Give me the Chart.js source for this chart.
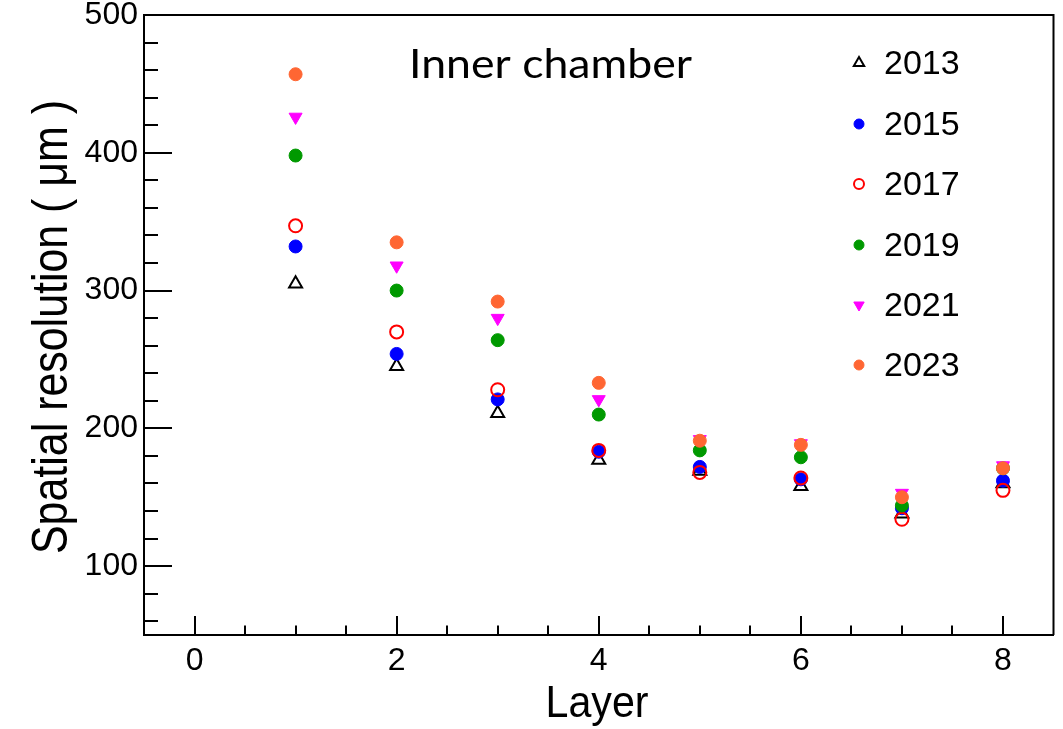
<!DOCTYPE html>
<html>
<head>
<meta charset="utf-8">
<script src="https://cdn.jsdelivr.net/npm/chart.js@4.4.1/dist/chart.umd.min.js"></script>
<style>
  body { margin: 0; background: #fff; }
  #wrap { width: 1063px; height: 729px; }
</style>
</head>
<body>
<div id="wrap"><canvas id="myChart" width="1063" height="729"></canvas></div>
<script>
// data
const layers = [1, 2, 3, 4, 5, 6, 7, 8];
const res2013 = [305, 245, 211, 177, 169, 158, 138, 160];
const res2015 = [332, 254, 221, 183, 172, 163, 142, 162];
const res2017 = [347, 270, 228, 184, 168, 164, 134, 155];
const res2019 = [398, 300, 264, 210, 184, 179, 144, 171];
const res2021 = [426, 318, 280, 221, 192, 189, 153, 173];
const res2023 = [457, 335, 292, 233, 191, 188, 150, 171];
const years = ["2013", "2015", "2017", "2019", "2021", "2023"];
const xTicks = [0, 2, 4, 6, 8];
const yTicks = [100, 200, 300, 400, 500];

const allRes = [res2013, res2015, res2017, res2019, res2021, res2023];
// marker looks, like the ROOT ones
const markers = [
  { style: "triangle", rot: 0, fill: "rgba(0,0,0,0)", line: "#000000", w: 2, r: 7.5 },
  { style: "circle", rot: 0, fill: "#0000ff", line: "#0000ff", w: 1, r: 6.5 },
  { style: "circle", rot: 0, fill: "rgba(0,0,0,0)", line: "#ff0000", w: 2, r: 6.5 },
  { style: "circle", rot: 0, fill: "#009900", line: "#009900", w: 1, r: 6.5 },
  { style: "triangle", rot: 180, fill: "#ff00ff", line: "#ff00ff", w: 1, r: 7.5 },
  { style: "circle", rot: 0, fill: "#ff6633", line: "#ff6633", w: 1, r: 6.5 }
];

const datasets = years.map((y, i) => ({
  label: y,
  data: layers.map((l, j) => ({ x: l, y: allRes[i][j] })),
  showLine: false,
  pointStyle: markers[i].style,
  pointRotation: markers[i].rot,
  pointRadius: markers[i].r,
  pointHoverRadius: markers[i].r,
  backgroundColor: markers[i].fill,
  borderColor: markers[i].line,
  borderWidth: markers[i].w,
  order: years.length - i
}));

// draw text squeezed to a given width (the original fonts are a bit condensed)
function squeezeText(ctx, text, font, width, x, y, angle) {
  ctx.save();
  ctx.font = font;
  const w = ctx.measureText(text).width;
  ctx.translate(x, y);
  ctx.rotate(angle);
  ctx.scale(width / w, 1);
  ctx.fillText(text, 0, 0);
  ctx.restore();
}

const extras = {
  id: "extras",
  afterDraw(chart) {
    const ctx = chart.ctx;
    const a = chart.chartArea;
    const xs = chart.scales.x;
    const ys = chart.scales.y;
    ctx.save();
    ctx.strokeStyle = "#000";
    ctx.lineWidth = 2;
    // top and right frame
    ctx.beginPath();
    ctx.moveTo(a.left, a.top);
    ctx.lineTo(a.right, a.top);
    ctx.lineTo(a.right, a.bottom);
    ctx.stroke();
    // inward ticks
    ctx.beginPath();
    for (let v = 60; v <= 500; v += 20) {
      const py = Math.round(ys.getPixelForValue(v));
      const len = v % 100 === 0 ? 28 : 14;
      ctx.moveTo(a.left, py);
      ctx.lineTo(a.left + len, py);
    }
    for (let v = 0; v <= 8; v += 0.5) {
      const px = Math.round(xs.getPixelForValue(v));
      const len = v % 2 === 0 ? 19 : 9.5;
      ctx.moveTo(px, a.bottom);
      ctx.lineTo(px, a.bottom - len);
    }
    ctx.stroke();

    ctx.fillStyle = "#000";
    // axis titles
    ctx.textAlign = "center";
    ctx.textBaseline = "alphabetic";
    squeezeText(ctx, "Layer", "44px 'Liberation Sans'", 103, 597, 716.5, 0);
    squeezeText(ctx, "Spatial resolution ( \u03bcm )", "50px 'Liberation Sans'", 454, 66.5, 327, -Math.PI / 2);

    // label in the frame
    ctx.textAlign = "left";
    squeezeText(ctx, "Inner chamber", "40px Lato", 283, 409, 78, 0);

    // legend
    ctx.font = "34px 'Liberation Sans'";
    ctx.textBaseline = "middle";
    const rowY = [63, 124, 184, 245, 305, 365];
    years.forEach((y, i) => {
      const m = markers[i];
      ctx.save();
      ctx.fillStyle = m.fill;
      ctx.strokeStyle = m.line;
      ctx.lineWidth = m.w;
      Chart.helpers.drawPoint(ctx, { pointStyle: m.style, rotation: m.rot, radius: m.r - 1.5, borderWidth: m.w }, 859, rowY[i]);
      ctx.restore();
      ctx.fillText(y, 884, rowY[i] + 2);
    });
    ctx.restore();
  }
};

const chart = new Chart(document.getElementById("myChart"), {
  type: "scatter",
  data: { datasets: datasets },
  options: {
    responsive: false,
    animation: false,
    events: [],
    layout: { padding: { top: 15, right: 8, left: 0, bottom: 0 } },
    plugins: { legend: { display: false }, tooltip: { enabled: false } },
    scales: {
      x: {
        type: "linear",
        min: -0.5,
        max: 8.5,
        afterBuildTicks: (s) => { s.ticks = xTicks.map((v) => ({ value: v })); },
        afterFit: (s) => { s.height = 94; s.paddingLeft = 0; s.paddingRight = 0; },
        grid: { display: false, drawTicks: false },
        border: { display: true, color: "#000", width: 2 },
        ticks: { color: "#000", padding: 7, font: { family: "'Liberation Sans'", size: 32 }, maxRotation: 0 }
      },
      y: {
        type: "linear",
        min: 50,
        max: 500,
        afterBuildTicks: (s) => { s.ticks = yTicks.map((v) => ({ value: v })); },
        afterFit: (s) => { s.width = 144; s.paddingTop = 0; s.paddingBottom = 0; },
        grid: { display: false, drawTicks: false },
        border: { display: true, color: "#000", width: 2 },
        ticks: { color: "#000", padding: 6, font: { family: "'Liberation Sans'", size: 32 } }
      }
    }
  },
  plugins: [extras]
});
</script>
</body>
</html>
